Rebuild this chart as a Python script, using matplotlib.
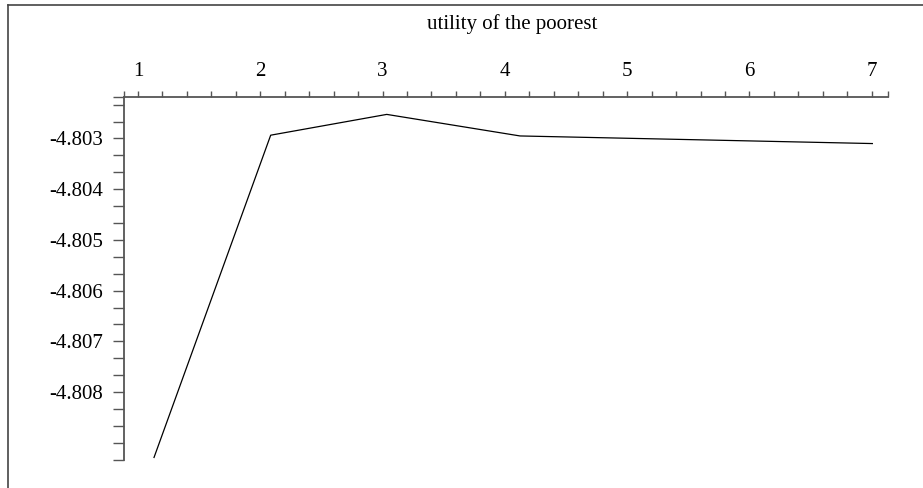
import numpy as np
import matplotlib.pyplot as plt
from matplotlib.lines import Line2D

# values
x_vals = [1.131, 2.085, 3.034, 4.124, 7.005]
y_vals = [-4.80929, -4.802935, -4.802525, -4.80295, -4.80310]
x_ticks = [1, 2, 3, 4, 5, 6, 7]
y_ticks = [-4.803, -4.804, -4.805, -4.806, -4.807, -4.808]
y_labels = ['-4.803', '-4.804', '-4.805', '-4.806', '-4.807', '-4.808']
title = 'utility of the poorest'

plt.rcParams['font.family'] = ['Liberation Serif', 'DejaVu Serif']

fig = plt.figure(figsize=(9.23, 4.88), dpi=100)
ax = fig.add_axes([124 / 923, 1 - 460 / 488, (888 - 124) / 923, (460 - 96.7) / 488])

ax.plot(x_vals, y_vals, color='black', lw=0.9)

xlo, xhi = 0.8855, 7.133
ylo, yhi = -4.80934, -4.802176

axcol = '#555555'
for s in ['right', 'bottom']:
    ax.spines[s].set_visible(False)
for s in ['left', 'top']:
    ax.spines[s].set_color(axcol)
    ax.spines[s].set_linewidth(1.3)

ax.xaxis.tick_top()
ax.set_xticks(x_ticks)
ax.set_xticklabels([str(v) for v in x_ticks])
xminor = list(np.arange(1.2, 7.0, 0.2)) + [xlo, xhi]
ax.set_xticks(xminor, minor=True)
ax.tick_params(axis='x', which='both', direction='out', length=4.0, width=1.0,
               color=axcol, pad=7, labelsize=15)

ax.set_yticks(y_ticks)
ax.set_yticklabels(y_labels)
yminor = [-4.803 - k * 0.001 / 3 for k in range(-2, 20)]
yminor = [v for v in yminor if ylo - 1e-6 <= v <= yhi] + [yhi]
ax.set_yticks(yminor, minor=True)
ax.tick_params(axis='y', which='both', direction='out', length=8, width=1.0,
               color=axcol, pad=7, labelsize=15)

ax.set_xlim(xlo, xhi)
ax.set_ylim(ylo, yhi)

fig.text(512 / 923, 1 - 24 / 488, title, ha='center', va='center', fontsize=15)

# outer frame of the picture (left and top edge)
fx, fy = 8 / 923, 1 - 5 / 488
fig.add_artist(Line2D([fx, fx], [0, fy], transform=fig.transFigure, color='#444444', lw=1.2))
fig.add_artist(Line2D([fx, 1], [fy, fy], transform=fig.transFigure, color='#444444', lw=1.2))

fig.savefig('out.png', dpi=100)
